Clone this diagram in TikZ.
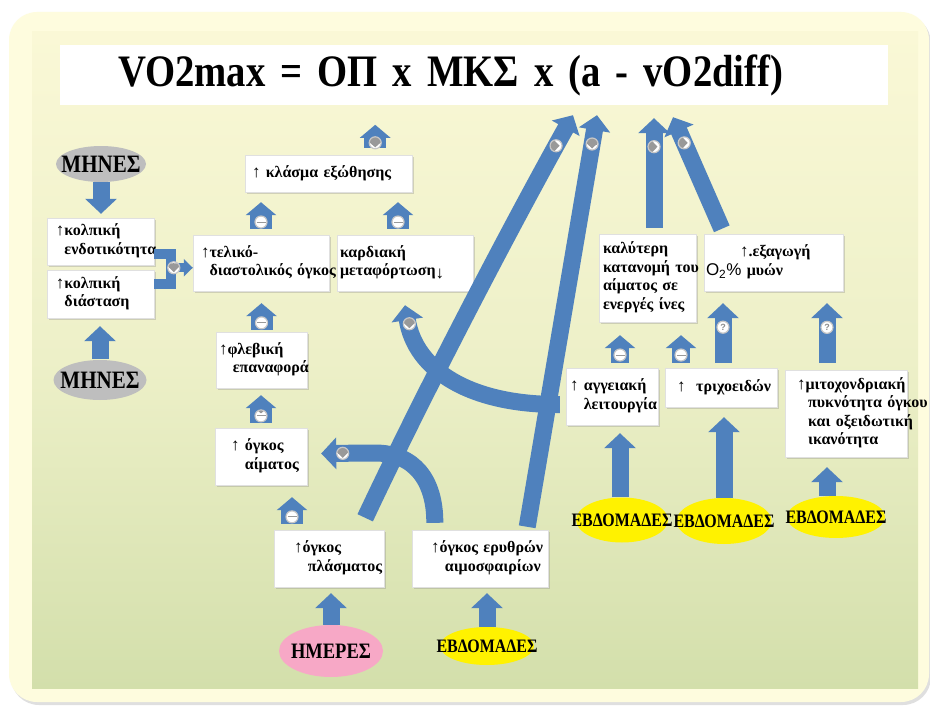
\documentclass[tikz,border=0pt]{standalone}
\usepackage{fontspec}
\setmainfont{Liberation Serif}
\setsansfont{Liberation Sans}
\newfontfamily\narrowfont{Liberation Serif}[FakeStretch=0.84]
\newfontfamily\titlefont{Liberation Serif}[FakeStretch=0.86]
\usetikzlibrary{%
  arrows.meta,%
  shapes.geometric,% wg. ellipse
  shadows,%
  positioning,%
  calc%
}
\definecolor{arrowblue}{HTML}{4F81BD}
\definecolor{panelpale}{HTML}{FEFCDE}
\definecolor{paneltop}{HTML}{FAF8D6}
\definecolor{panelmid}{HTML}{EDF0C8}
\definecolor{panelbot}{HTML}{D3DFAB}
\definecolor{ellgrey}{HTML}{BEBEBE}
\definecolor{ellpink}{HTML}{F7A8C6}
\definecolor{ellyellow}{HTML}{FFF200}
\newcommand{\uarr}{{\fontsize{17}{18}\selectfont↑}}
\newcommand{\darr}{{\fontsize{17}{18}\selectfont↓}}
\newcommand{\uind}{\phantom{\uarr}}
\newcommand{\blines}[1]{\begin{tabular}{@{}l@{}}#1\end{tabular}}
\newcommand{\etext}[1]{\makebox[0pt]{#1}}

\begin{document}
\begin{tikzpicture}
[x=1pt, y=-1pt,
box/.style={rectangle, fill=white, draw=black!12, inner ysep=2pt, align=left,
  font=\fontsize{16}{18.5}\selectfont\bfseries,
  drop shadow={shadow xshift=1.5pt, shadow yshift=-2pt, opacity=.3}},
ell/.style={ellipse, inner sep=0pt},
ellbig/.style={ell, font=\narrowfont\bfseries\fontsize{25}{25}\selectfont},
ellmid/.style={ell, font=\narrowfont\bfseries\fontsize{22}{22}\selectfont},
ellsmall/.style={ell, font=\narrowfont\bfseries\fontsize{19}{19}\selectfont},
barrow/.style={draw=arrowblue, line width=17pt, -{Triangle[width=31pt,length=15pt]}},
harrow/.style={draw=arrowblue, line width=22pt, -{Triangle[width=30pt,length=13pt]}},
sarrow/.style={draw=arrowblue, line width=9pt, -{Triangle[width=17pt,length=9pt]}},
brk/.style={draw=arrowblue, line width=10pt},
sign/.style={circle, draw=black!22, fill=white, line width=1.2pt, minimum size=12pt, inner sep=0pt},
signplus/.style={sign, path picture={\draw[black!40, line width=1pt]
  ([xshift=1.5pt]path picture bounding box.west) -- ([xshift=-1.5pt]path picture bounding box.east)
  ([yshift=-1.5pt]path picture bounding box.north) -- ([yshift=1.5pt]path picture bounding box.south);}},
signminus/.style={sign, path picture={\draw[black!40, line width=2.4pt]
  ([xshift=2.5pt]path picture bounding box.west) -- ([xshift=-2.5pt]path picture bounding box.east);}},
signq/.style={sign, font=\sffamily\bfseries\fontsize{9}{9}\selectfont, text=black!45}
]
\useasboundingbox (0,0) rectangle (930,709);
\fill[white] (0,0) rectangle (930,709);
\fill[panelpale, rounded corners=28pt, drop shadow={shadow xshift=2pt, shadow yshift=-3pt, opacity=.25}] (9,12) rectangle (929,702);
\shade[top color=paneltop, bottom color=panelbot, middle color=panelmid] (32,32) rectangle (918,688);

\node[fill=white, minimum width=828pt, minimum height=60pt, text width=712pt, inner xsep=58pt, inner ysep=0pt,
  align=left, font=\titlefont\bfseries\fontsize{45}{50}\selectfont] (title) at (474,75) {VO2max = ΟΠ x ΜΚΣ x (a - vO2diff)};

\node[ellbig, fill=ellgrey, minimum width=90pt, minimum height=36pt] (mhnesA) at (101,164) {\etext{ΜΗΝΕΣ}};
\node[box, text width=89pt, inner xsep=9pt, minimum height=47pt] (kolend) at (100.5,241.5) {\blines{\uarr κολπική\\\uind ενδοτικότητα}};
\node[box, text width=89pt, inner xsep=9pt, minimum height=48pt] (koldia) at (100.5,294) {\blines{\uarr κολπική\\\uind διάσταση}};
\node[ellbig, fill=ellgrey, minimum width=93pt, minimum height=40pt] (mhnesB) at (100,380) {\etext{ΜΗΝΕΣ}};

\node[box, text width=153pt, inner xsep=7pt, minimum height=37pt] (klasma) at (328.5,173.5) {\blines{\uarr\ κλάσμα εξώθησης}};
\node[box, text width=120pt, inner xsep=8pt, minimum height=56pt] (telik) at (261,263) {\blines{\uarr τελικό-\\\uind διαστολικός όγκος}};
\node[box, text width=130pt, inner xsep=3pt, minimum height=56pt] (kard) at (405,263) {\blines{καρδιακή\\μεταφόρτωση\raisebox{-3pt}{\darr}\\ }};
\node[box, text width=85pt, inner xsep=3pt, minimum height=56pt] (fleb) at (261.5,360) {\blines{\uarr φλεβική\\\uind\ επαναφορά}};
\node[box, text width=60pt, inner xsep=16pt, minimum height=57pt] (aimat) at (261,456.5) {\blines{\uarr\ όγκος\\\uind\ αίματος}};
\node[box, text width=70pt, inner xsep=20pt, minimum height=57pt] (plasm) at (329,558.5) {\blines{\uarr όγκος\\\uind\ πλάσματος}};
\node[box, text width=98pt, inner xsep=19pt, minimum height=57pt] (eryth) at (480,558.5) {\blines{\uarr όγκος ερυθρών\\\uind\ αιμοσφαιρίων}};
\node[ellmid, fill=ellpink, minimum width=104pt, minimum height=52pt] (hmeres) at (331,651) {\etext{ΗΜΕΡΕΣ}};
\node[ellsmall, fill=ellyellow, minimum width=94pt, minimum height=38pt] (ebdA) at (487,646) {\etext{ΕΒΔΟΜΑΔΕΣ}};

\node[box, text width=89pt, inner xsep=4pt, minimum height=88pt] (kalyt) at (647.5,278) {\blines{καλύτερη\\κατανομή του\\αίματος σε\\ενεργές ίνες}};
\node[box, text width=135pt, inner xsep=2pt, minimum height=57pt] (exag) at (773.5,262.5) {\blines{\hspace*{34pt}\uarr.εξαγωγή\\{\sffamily\mdseries\fontsize{17}{18}\selectfont O\textsubscript{2}\%} μυών}};
\node[box, text width=84pt, inner xsep=4pt, minimum height=57pt] (angei) at (612,396.5) {\blines{\uarr\ αγγειακή\\\uind\ λειτουργία}};
\node[box, text width=88pt, inner xsep=12pt, minimum height=39pt] (trix) at (721,387.5) {\blines{\uarr\ \ τριχοειδών}};
\node[box, text width=98pt, inner xsep=12pt, minimum height=87pt] (mito) at (846,413.5) {\blines{\uarr μιτοχονδριακή\\\uind\,πυκνότητα όγκου\\\uind\,και οξειδωτική\\\uind\,ικανότητα}};
\node[ellsmall, fill=ellyellow, minimum width=92pt, minimum height=45pt] (ebdB) at (622,520) {\etext{ΕΒΔΟΜΑΔΕΣ}};
\node[ellsmall, fill=ellyellow, minimum width=95pt, minimum height=46pt] (ebdC) at (724,521) {\etext{ΕΒΔΟΜΑΔΕΣ}};
\node[ellsmall, fill=ellyellow, minimum width=98pt, minimum height=42pt] (ebdD) at (836,517) {\etext{ΕΒΔΟΜΑΔΕΣ}};

\draw[barrow, shorten >=4pt] (mhnesA.south) -- (mhnesA.south |- kolend.north);
\draw[barrow, shorten <=1pt, shorten >=8pt] (mhnesB.north) -- (mhnesB.north |- koldia.south);
\draw[brk] ([yshift=-12pt]kolend.east) -- ++(17,0) |- ([yshift=10pt]koldia.east);
\coordinate (kj) at ($(kolend.east)!.5!(koldia.east)+(17,0)$);
\draw[sarrow] (kj) -- (kj -| telik.west) node[signplus, pos=.12] {};

\draw[harrow, shorten <=7pt] ([xshift=-37pt]klasma.north east) -- ++(0,-30) node[signplus, pos=.4] {};
\draw[harrow, shorten <=6pt, shorten >=10pt] (telik.north) -- (telik.north |- klasma.south) node[signplus, pos=.3] {};
\draw[harrow, shorten <=6pt, shorten >=10pt] ([xshift=-7pt]kard.north) -- ([xshift=-7pt]kard.north |- klasma.south) node[signplus, pos=.3] {};
\draw[harrow, shorten <=2pt, shorten >=12pt] (fleb.north) -- (fleb.north |- telik.south) node[signplus, pos=.22] {};
\draw[harrow, shorten <=5pt, shorten >=7pt] (aimat.north) -- (aimat.north |- fleb.south) node[signplus, pos=.3] {};
\draw[harrow, shorten <=6pt, shorten >=12pt] ([xshift=-37pt]plasm.north) -- ([xshift=-37pt]plasm.north |- aimat.south) node[signplus, pos=.29] {};
\draw[barrow, shorten >=6pt] (hmeres.north) -- (hmeres.north |- plasm.south);
\draw[barrow, shorten >=6pt] (ebdA.north) -- (ebdA.north |- eryth.south);

\draw[barrow] ([xshift=-19pt,yshift=12pt]plasm.north east) .. controls (430,380) and (520,210) .. ([xshift=99pt,yshift=-10pt]title.south) node[signminus, pos=.9] {};
\draw[barrow] ([xshift=-21pt,yshift=3pt]eryth.north east) -- ([xshift=123pt,yshift=-10pt]title.south) node[signplus, pos=.93] {};
\draw[barrow] ([xshift=23pt,yshift=7pt]eryth.north west) .. controls (435,480) and (414,453) .. (375,453) -- ([xshift=14pt,yshift=3pt]aimat.east) node[signplus, pos=.6] {};
\draw[barrow] ([xshift=-6pt,yshift=-8pt]angei.west) .. controls (470,405) and (415,370) .. ([yshift=-14pt]kard.south) node[signplus, pos=.9] {};

\draw[barrow] ([xshift=6.5pt,yshift=6pt]kalyt.north) -- ([xshift=180pt,yshift=-13pt]title.south) node[signminus, pos=.74] {};
\draw[barrow] ([xshift=18pt,yshift=5pt]exag.north west) -- ([xshift=199pt,yshift=-12pt]title.south) node[signminus, pos=.77] {};
\draw[harrow, line width=18pt, shorten <=5pt, shorten >=13pt] ([xshift=8pt]angei.north) -- ([xshift=8pt]angei.north |- kalyt.south) node[signplus, pos=.28] {};
\draw[harrow, line width=18pt, shorten <=5pt, shorten >=13pt] ([xshift=-40pt]trix.north) -- ([xshift=-40pt]trix.north |- kalyt.south) node[signplus, pos=.28] {};
\draw[barrow, shorten <=5pt, shorten >=12pt] ([xshift=2pt]trix.north) -- ([xshift=2pt]trix.north |- exag.south) node[signq, pos=.53] {?};
\draw[barrow, shorten <=7pt, shorten >=12pt] ([xshift=-19pt]mito.north) -- ([xshift=-19pt]mito.north |- exag.south) node[signq, pos=.54] {?};
\draw[barrow, shorten >=8pt] ([xshift=-2pt]ebdB.north) -- ([xshift=-2pt]ebdB.north |- angei.south);
\draw[barrow, shorten >=10pt] (ebdC.north) -- (ebdC.north |- trix.south);
\draw[barrow, shorten >=10pt] ([xshift=-9pt]ebdD.north) -- ([xshift=-9pt]ebdD.north |- mito.south);
\end{tikzpicture}
\end{document}
